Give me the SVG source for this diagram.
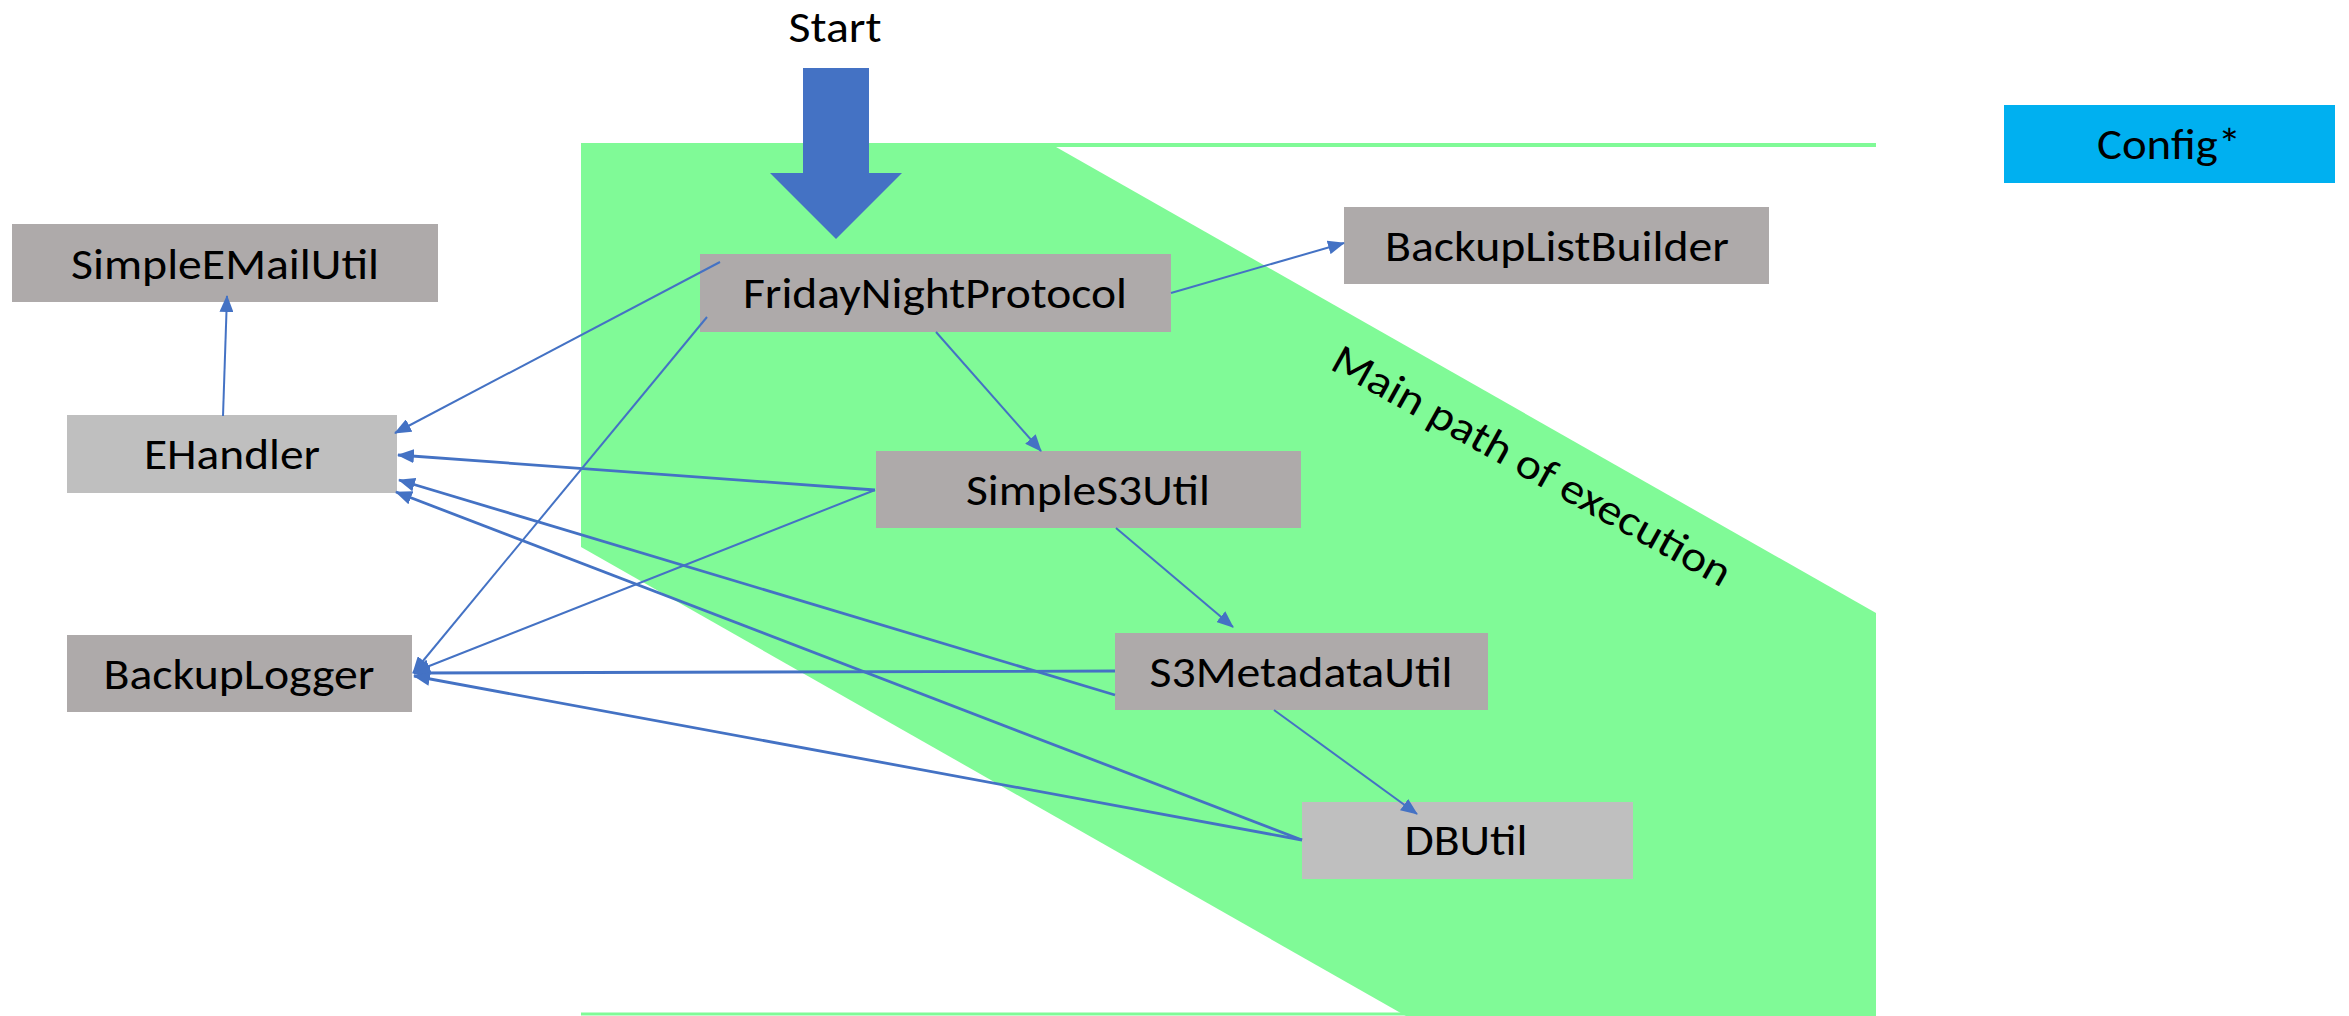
<svg xmlns="http://www.w3.org/2000/svg" width="2349" height="1016" viewBox="0 0 2349 1016">
  <defs>
    <style>
      .node-dark { fill: #AEAAAA; }
      .node-light { fill: #BFBFBF; }
      .node-cfg { fill: #00B0F0; }
      .lbl { font-family: Carlito, Lato, "Liberation Sans", sans-serif; font-size: 43px; fill: #000000; text-anchor: middle; }
      .edge { stroke: #4472C4; stroke-width: 2; fill: none; marker-end: url(#arrow); }
      .edge.heavy { stroke-width: 2.8; }
    </style>
    <marker id="arrow" markerUnits="userSpaceOnUse" markerWidth="17" markerHeight="14" refX="16" refY="7" orient="auto">
      <path d="M0,0 L17,7 L0,14 Z" fill="#4472C4"/>
    </marker>
  </defs>

  <rect width="2349" height="1016" fill="#FFFFFF"/>

  <!-- highlighted band: main path of execution -->
  <g id="main-path">
    <polygon points="581,143 1049,143 1876,613 1876,1016 1406,1016 581,547" fill="#80FA97"/>
    <line x1="1049" y1="145" x2="1876" y2="145" stroke="#80FA97" stroke-width="4"/>
    <line x1="581" y1="1014" x2="1406" y2="1014" stroke="#80FA97" stroke-width="3"/>
    <text class="lbl" x="1525" y="478" transform="rotate(29.2 1525 478)" textLength="450" lengthAdjust="spacingAndGlyphs">Main path of execution</text>
  </g>

  <!-- entry point -->
  <g id="start">
    <text class="lbl" x="835" y="42" textLength="93" lengthAdjust="spacingAndGlyphs">Start</text>
    <polygon points="803,68 869,68 869,173 902,173 836,239 770,173 803,173" fill="#4472C4"/>
  </g>

  <g id="SimpleEMailUtil">
    <rect class="node-dark" x="12" y="224" width="426" height="78"/>
    <text class="lbl" x="225" y="279" textLength="308" lengthAdjust="spacingAndGlyphs">SimpleEMailUtil</text>
  </g>

  <g id="EHandler">
    <rect class="node-light" x="67" y="415" width="330" height="78"/>
    <text class="lbl" x="232" y="469" textLength="176" lengthAdjust="spacingAndGlyphs">EHandler</text>
  </g>

  <g id="BackupLogger">
    <rect class="node-dark" x="67" y="635" width="345" height="77"/>
    <text class="lbl" x="239" y="689" textLength="271" lengthAdjust="spacingAndGlyphs">BackupLogger</text>
  </g>

  <g id="FridayNightProtocol">
    <rect class="node-dark" x="700" y="254" width="471" height="78"/>
    <text class="lbl" x="935" y="308" textLength="384" lengthAdjust="spacingAndGlyphs">FridayNightProtocol</text>
  </g>

  <g id="BackupListBuilder">
    <rect class="node-dark" x="1344" y="207" width="425" height="77"/>
    <text class="lbl" x="1557" y="261" textLength="344" lengthAdjust="spacingAndGlyphs">BackupListBuilder</text>
  </g>

  <g id="SimpleS3Util">
    <rect class="node-dark" x="876" y="451" width="425" height="77"/>
    <text class="lbl" x="1088" y="505" textLength="244" lengthAdjust="spacingAndGlyphs">SimpleS3Util</text>
  </g>

  <g id="S3MetadataUtil">
    <rect class="node-dark" x="1115" y="633" width="373" height="77"/>
    <text class="lbl" x="1301" y="687" textLength="303" lengthAdjust="spacingAndGlyphs">S3MetadataUtil</text>
  </g>

  <g id="DBUtil">
    <rect class="node-light" x="1302" y="802" width="331" height="77"/>
    <text class="lbl" x="1466" y="855" textLength="123" lengthAdjust="spacingAndGlyphs">DBUtil</text>
  </g>

  <g id="Config">
    <rect class="node-cfg" x="2004" y="105" width="331" height="78"/>
    <text class="lbl" x="2169" y="159" textLength="144" lengthAdjust="spacingAndGlyphs">Config*</text>
  </g>

  <!-- call connectors, drawn over the boxes -->
  <g id="connectors">
    <line class="edge" x1="720" y1="262" x2="395" y2="433"/>
    <line class="edge" x1="707" y1="317" x2="413" y2="673"/>
    <line class="edge heavy" x1="875" y1="490" x2="398" y2="455"/>
    <line class="edge" x1="875" y1="490" x2="414" y2="672"/>
    <line class="edge heavy" x1="1115" y1="695" x2="399" y2="480"/>
    <line class="edge heavy" x1="1115" y1="671" x2="414" y2="673"/>
    <line class="edge heavy" x1="1302" y1="840" x2="396" y2="492"/>
    <line class="edge heavy" x1="1302" y1="840" x2="414" y2="676"/>
    <line class="edge" x1="223" y1="416" x2="227" y2="296"/>
    <line class="edge" x1="1171" y1="293" x2="1344" y2="243"/>
    <line class="edge" x1="936" y1="332" x2="1041" y2="451"/>
    <line class="edge" x1="1116" y1="528" x2="1233" y2="627"/>
    <line class="edge" x1="1274" y1="710" x2="1417" y2="814"/>
  </g>
</svg>
